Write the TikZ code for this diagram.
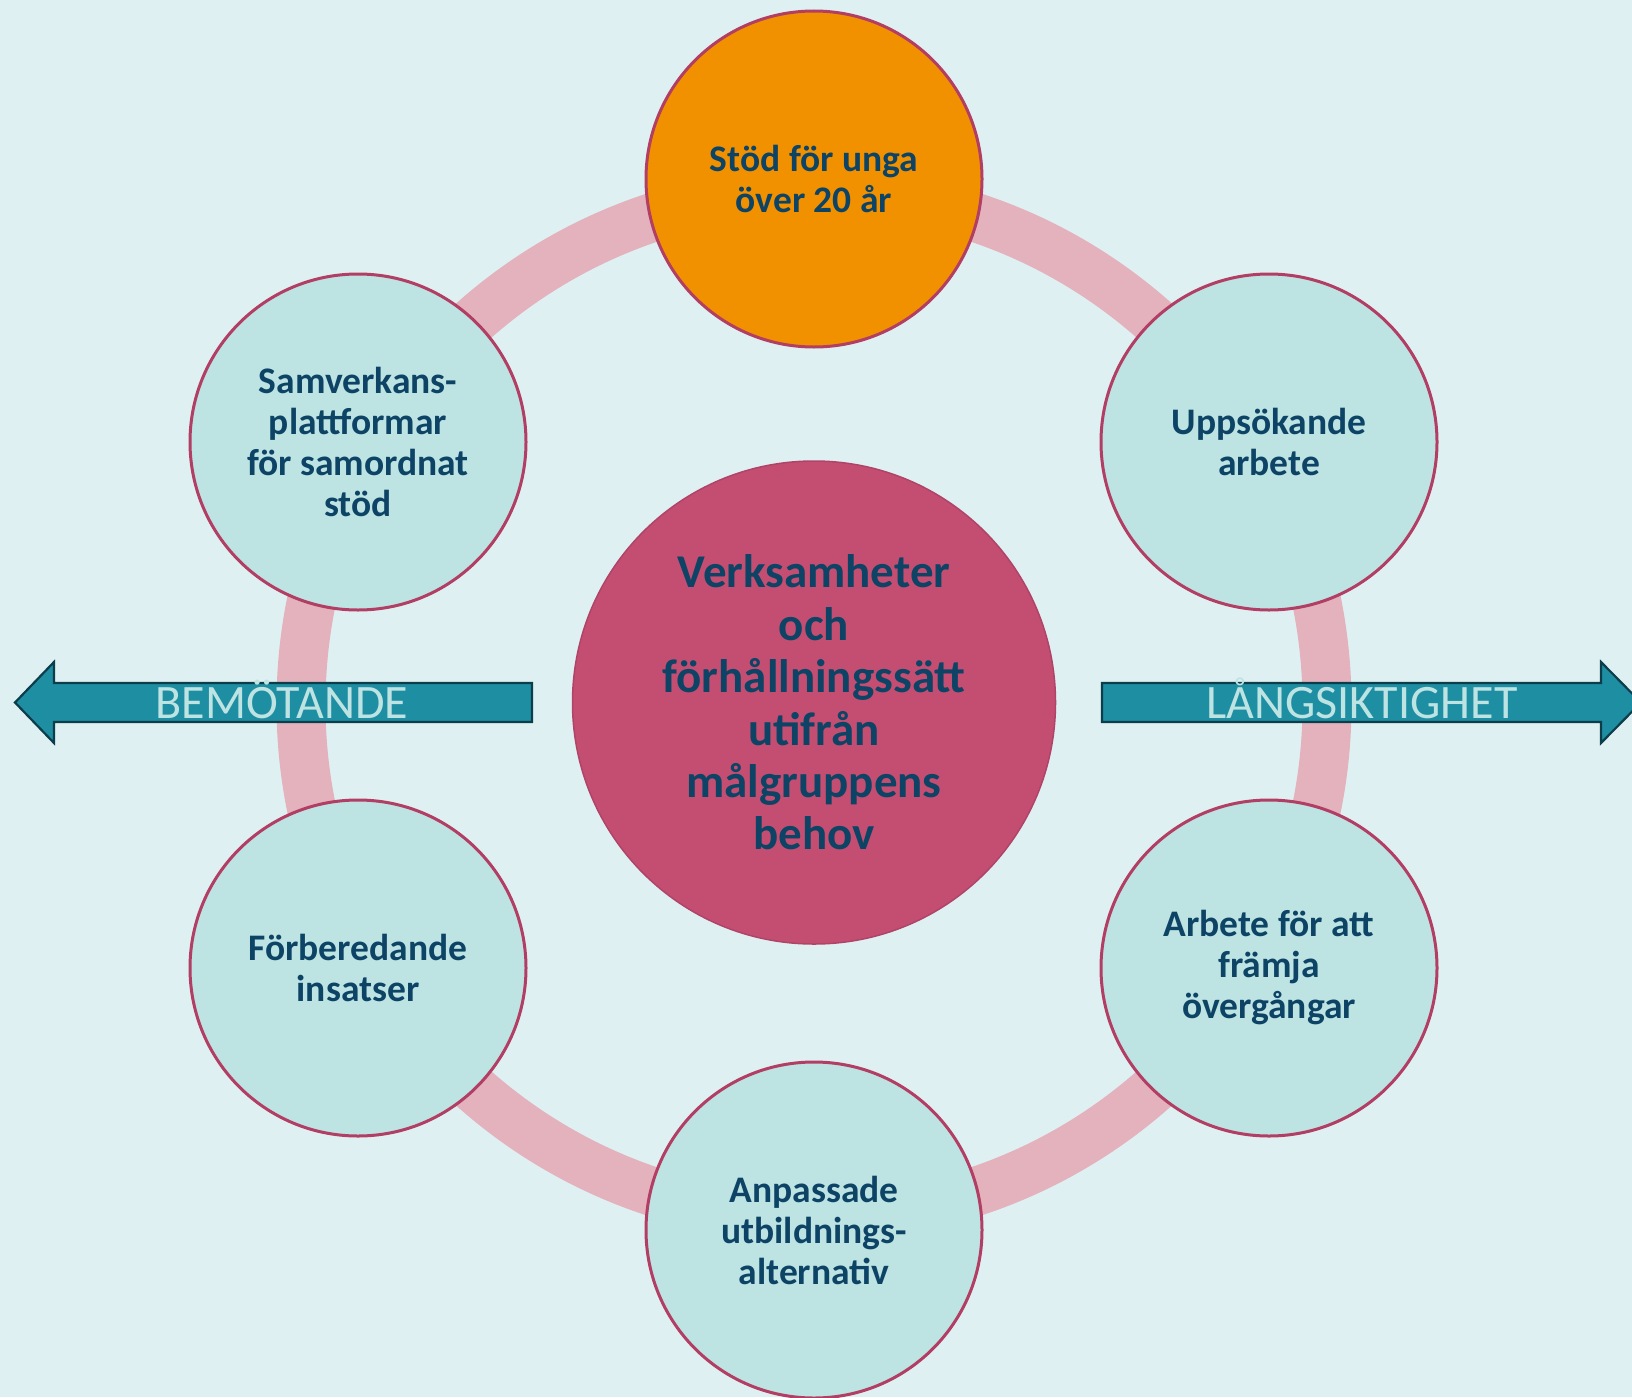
\documentclass[tikz,border=0pt]{standalone}
\usepackage{fontspec}
\setmainfont{Carlito}
\definecolor{bgcol}{HTML}{DFF0F2}
\definecolor{ringcol}{HTML}{E3B2BC}
\definecolor{satfill}{HTML}{BDE3E3}
\definecolor{satborder}{HTML}{B23E64}
\definecolor{hubfill}{HTML}{C44E71}
\definecolor{hubborder}{HTML}{B04468}
\definecolor{topfill}{HTML}{F29100}
\definecolor{txtcol}{HTML}{0D4466}
\definecolor{arrfill}{HTML}{1E8EA3}
\definecolor{arrborder}{HTML}{0C3D4A}
\definecolor{arrtxt}{HTML}{BDE3E3}
\begin{document}
\begin{tikzpicture}[x=1pt,y=-1pt,
  sat/.style={circle, draw=satborder, line width=3pt, fill=satfill,
    minimum size=336pt, inner sep=0pt, text=txtcol, align=center,
    font=\fontsize{37.5}{41}\selectfont\bfseries},
  hub/.style={circle, draw=hubborder, line width=1.5pt, fill=hubfill,
    minimum size=483pt, inner sep=0pt, text=txtcol, align=center,
    font=\fontsize{47}{52.4}\selectfont\bfseries},
  arrshape/.style={fill=arrfill, draw=arrborder, line width=2.2pt, line join=miter},
  arrlabel/.style={text=arrtxt, font=\fontsize{48}{52}\selectfont, inner sep=0pt, anchor=base},
  ringstyle/.style={draw=ringcol, line width=49pt}
]
\clip (0,0) rectangle (1632,1397);
\fill[bgcol] (0,0) rectangle (1632,1397);
\coordinate (c) at (814,704.5);
\draw[ringstyle] (c) circle[radius=513];
% arrows
\draw[arrshape] (532,683) -- (54,683) -- (54,662) -- (15,702.5) -- (54,743) -- (54,722) -- (532,722) -- cycle;
\draw[arrshape] (1102,683) -- (1601,683) -- (1601,662) -- (1641,702.5) -- (1601,743) -- (1601,722) -- (1102,722) -- cycle;
\node[arrlabel] (bem) at (282,718) {BEMÖTANDE};
\node[arrlabel] (lang) at (1362,718) {LÅNGSIKTIGHET};
% hub
\node[hub] (hub) at (814,702.5) {Verksamheter\\och\\förhållningssätt\\utifrån\\målgruppens\\behov};
% satellites
\node[sat, fill=topfill] (top) at (814,179) {Stöd för unga\\över 20 år};
\node[sat] (ur) at (1269,442) {Uppsökande\\arbete};
\node[sat] (lr) at (1269,968) {Arbete för att\\främja\\övergångar};
\node[sat] (bot) at (814,1230) {Anpassade\\utbildnings-\\alternativ};
\node[sat] (ll) at (358,968) {Förberedande\\insatser};
\node[sat] (ul) at (358,442) {Samverkans-\\plattformar\\för samordnat\\stöd};
\end{tikzpicture}
\end{document}
